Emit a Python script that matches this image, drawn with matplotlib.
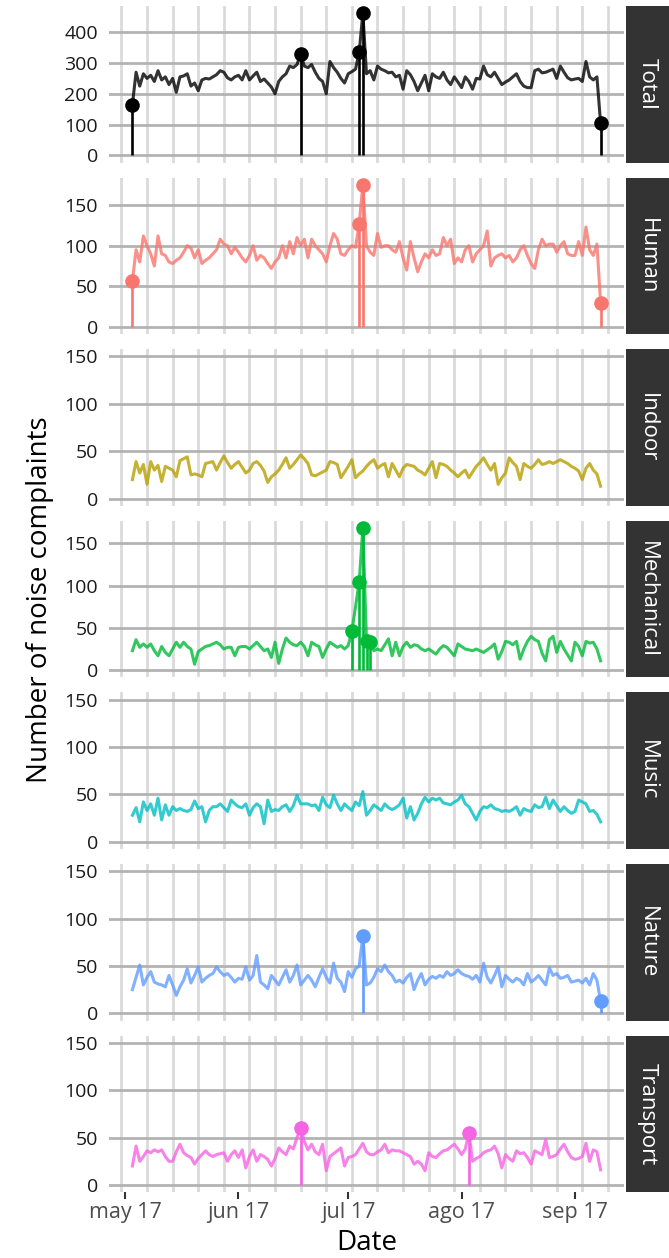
import numpy as np
import pandas as pd
import matplotlib.pyplot as plt
import matplotlib.dates as mdates
from matplotlib.ticker import FuncFormatter

plt.rcParams['font.family'] = ['Open Sans', 'DejaVu Sans']

# Datos diarios (3 may 2017 - 8 sep 2017)
fechas = pd.date_range('2017-05-03', periods=129, freq='D')

total = [165, 270, 225, 265, 250, 260, 240, 275, 245, 255, 230, 250, 205, 255, 258, 265, 225, 235, 210, 245,
         250, 248, 255, 262, 275, 270, 252, 245, 255, 260, 245, 275, 245, 258, 270, 240, 248, 235, 222, 200,
         240, 255, 265, 290, 285, 295, 330, 290, 285, 295, 270, 250, 240, 200, 305, 285, 270, 250, 235, 265,
         272, 280, 335, 462, 265, 275, 245, 290, 280, 275, 268, 270, 255, 260, 215, 275, 262, 240, 210, 235,
         260, 210, 265, 255, 250, 270, 245, 230, 255, 238, 220, 255, 240, 215, 250, 248, 290, 262, 255, 270,
         250, 230, 238, 245, 255, 265, 240, 225, 220, 220, 275, 280, 268, 270, 275, 280, 250, 290, 270, 252,
         245, 248, 250, 240, 305, 255, 245, 255, 105]

human = [57, 95, 80, 112, 100, 90, 75, 112, 90, 88, 80, 78, 82, 85, 92, 100, 97, 85, 95, 78,
         82, 85, 90, 95, 108, 102, 100, 90, 98, 92, 85, 80, 88, 100, 82, 88, 85, 78, 72, 80,
         85, 100, 85, 105, 90, 110, 100, 108, 85, 108, 100, 95, 90, 80, 100, 115, 108, 90, 88, 95,
         100, 98, 127, 175, 100, 92, 88, 115, 98, 100, 100, 95, 92, 105, 85, 70, 105, 85, 68, 80,
         90, 85, 95, 88, 90, 110, 100, 108, 78, 85, 80, 95, 100, 80, 90, 95, 100, 118, 75, 85,
         88, 90, 85, 88, 80, 85, 95, 100, 88, 78, 72, 95, 108, 100, 102, 102, 92, 100, 105, 90,
         88, 88, 105, 88, 123, 95, 88, 102, 30]

indoor = [20, 39, 27, 36, 15, 39, 30, 35, 18, 34, 32, 30, 23, 40, 42, 44, 25, 26, 25, 23,
          37, 38, 39, 30, 38, 45, 38, 32, 36, 39, 33, 27, 30, 37, 39, 35, 29, 17, 23, 26,
          30, 36, 43, 32, 36, 41, 46, 42, 37, 25, 24, 26, 28, 30, 39, 38, 36, 22, 28, 34,
          41, 22, 26, 29, 34, 38, 41, 32, 35, 37, 23, 37, 30, 23, 32, 36, 35, 34, 30, 28,
          25, 32, 39, 22, 37, 36, 34, 30, 27, 23, 27, 30, 22, 28, 34, 38, 43, 36, 30, 37,
          15, 22, 27, 43, 38, 34, 20, 37, 34, 32, 36, 41, 36, 37, 39, 37, 39, 41, 39, 37,
          34, 32, 29, 20, 32, 37, 30, 26, 13]

mechanical = [23, 36, 27, 31, 27, 31, 23, 17, 28, 21, 17, 25, 33, 27, 33, 28, 25, 7, 22, 25,
              28, 29, 31, 33, 30, 25, 27, 27, 17, 27, 28, 28, 25, 29, 33, 28, 23, 25, 15, 33,
              8, 25, 38, 33, 30, 29, 33, 28, 17, 33, 30, 28, 15, 25, 33, 30, 27, 29, 25, 29,
              46, 75, 104, 168, 34, 33, 23, 25, 23, 30, 37, 17, 33, 17, 28, 33, 27, 30, 29, 25,
              23, 25, 22, 19, 25, 29, 27, 22, 17, 31, 28, 25, 24, 23, 25, 23, 21, 24, 27, 31,
              13, 22, 34, 33, 30, 34, 13, 25, 34, 40, 36, 34, 20, 11, 36, 40, 21, 34, 25, 18,
              11, 33, 28, 17, 34, 32, 33, 25, 11]

music = [28, 36, 21, 42, 33, 40, 28, 46, 23, 39, 28, 37, 33, 35, 33, 32, 34, 43, 35, 37,
         21, 33, 37, 37, 40, 36, 32, 44, 40, 37, 36, 40, 28, 36, 40, 37, 19, 44, 32, 34,
         33, 37, 39, 32, 38, 49, 40, 40, 40, 38, 39, 33, 47, 39, 36, 49, 40, 33, 40, 36,
         33, 42, 38, 53, 28, 33, 39, 36, 33, 40, 36, 34, 36, 39, 46, 25, 37, 23, 30, 40,
         47, 42, 46, 44, 46, 41, 40, 39, 42, 44, 49, 40, 37, 30, 23, 32, 37, 36, 39, 35,
         34, 32, 33, 32, 34, 37, 28, 35, 33, 32, 39, 36, 37, 47, 35, 44, 38, 32, 37, 33,
         30, 32, 44, 42, 40, 32, 33, 29, 21]

nature = [25, 38, 51, 30, 38, 44, 33, 31, 30, 28, 40, 30, 19, 28, 35, 47, 32, 40, 49, 33,
          37, 40, 42, 49, 44, 40, 42, 38, 33, 37, 36, 49, 35, 40, 61, 33, 30, 26, 40, 35,
          30, 38, 46, 33, 40, 51, 30, 35, 40, 35, 28, 38, 47, 38, 32, 53, 37, 33, 23, 44,
          38, 47, 50, 82, 30, 32, 38, 47, 44, 51, 44, 40, 33, 35, 32, 38, 42, 25, 35, 42,
          30, 36, 39, 37, 40, 38, 44, 40, 42, 46, 42, 40, 39, 36, 40, 33, 53, 38, 32, 40,
          49, 28, 40, 36, 33, 37, 35, 30, 42, 33, 36, 40, 35, 30, 48, 40, 42, 37, 38, 40,
          33, 34, 35, 32, 37, 30, 42, 35, 13]

transport = [20, 41, 25, 30, 36, 34, 37, 35, 37, 30, 25, 25, 35, 43, 34, 31, 29, 22, 28, 32,
             36, 32, 30, 32, 33, 34, 25, 32, 36, 29, 37, 18, 30, 37, 25, 32, 30, 27, 20, 28,
             39, 35, 32, 41, 38, 50, 60, 46, 37, 43, 35, 32, 43, 15, 30, 33, 36, 39, 20, 29,
             30, 32, 38, 44, 35, 32, 32, 35, 37, 43, 34, 37, 36, 36, 34, 32, 30, 22, 25, 22,
             15, 34, 30, 29, 33, 36, 37, 40, 43, 38, 32, 38, 55, 25, 28, 30, 34, 36, 37, 41,
             33, 18, 32, 28, 25, 36, 33, 34, 29, 22, 36, 34, 32, 48, 29, 30, 32, 38, 43, 35,
             29, 27, 28, 30, 44, 25, 37, 35, 16]

# Dias con anomalia (indice del dia)
anom_total = [0, 46, 62, 63, 128]
anom_human = [0, 62, 63, 128]
anom_indoor = []
anom_mechanical = [60, 62, 63, 64, 65]
anom_music = []
anom_nature = [63, 128]
anom_transport = [46, 92]

categorias = ['Total', 'Human', 'Indoor', 'Mechanical', 'Music', 'Nature', 'Transport']
series = [total, human, indoor, mechanical, music, nature, transport]
anomalias = [anom_total, anom_human, anom_indoor, anom_mechanical, anom_music, anom_nature, anom_transport]
colores = ['#000000', '#F8766D', '#B79F00', '#00BA38', '#00BFC4', '#619CFF', '#F564E3']

meses = ['ene', 'feb', 'mar', 'abr', 'may', 'jun', 'jul', 'ago', 'sep', 'oct', 'nov', 'dic']

W, H = 669, 1258
fig = plt.figure(figsize=(W/100, H/100), dpi=100)

x0, x1 = 109, 624
alto = 156.5
paso = 171.6

# Expansion de 5% en x
rango = (fechas[-1] - fechas[0]) * 0.05
xmin = mdates.date2num(fechas[0] - rango)
xmax = mdates.date2num(fechas[-1] + rango)

for i, (cat, y, anom, col) in enumerate(zip(categorias, series, anomalias, colores)):
    top = 6 + i*paso
    ax = fig.add_axes([x0/W, 1 - (top + alto)/H, (x1 - x0)/W, alto/H])
    y = np.array(y)

    ax.plot(fechas, y, color=col, lw=2.2, alpha=0.8, zorder=3)
    if len(anom) > 0:
        fa = fechas[anom]
        ax.vlines(fa, 0, y[anom], color=col, lw=1.9, zorder=3)
        ax.plot(fa, y[anom], 'o', color=col, ms=9.5, zorder=4)

    if cat == 'Total':
        top_y = y.max()
        ax.set_yticks([0, 100, 200, 300, 400])
    else:
        top_y = max(y.max(), 150)
        ax.set_yticks([0, 50, 100, 150])
    ax.set_ylim(-0.05*top_y, 1.05*top_y)
    ax.set_xlim(xmin, xmax)

    ax.xaxis.set_major_locator(mdates.MonthLocator())
    ax.xaxis.set_minor_locator(mdates.WeekdayLocator(byweekday=mdates.SU))
    ax.xaxis.set_major_formatter(FuncFormatter(
        lambda v, p: meses[mdates.num2date(v).month - 1] + ' ' + mdates.num2date(v).strftime('%y')))

    ax.grid(True, axis='y', which='major', color='#b3b3b3', lw=2.0, zorder=1)
    ax.grid(True, axis='x', which='minor', color='#dadada', lw=2.0, zorder=1)
    ax.grid(False, axis='x', which='major')
    for s in ax.spines.values():
        s.set_visible(False)

    ax.tick_params(axis='y', length=0, pad=8, labelsize=14, labelcolor='#1a1a1a')
    ax.tick_params(axis='x', which='minor', length=0)
    if i == len(categorias) - 1:
        ax.tick_params(axis='x', which='major', length=5, width=1.5, color='#333333',
                       labelsize=15.5, labelcolor='#4d4d4d', pad=2)
    else:
        ax.tick_params(axis='x', which='major', length=0, labelbottom=False)

    # Etiqueta de la faceta
    sx = fig.add_axes([626/W, 1 - (top + alto)/H, (W - 626)/W, alto/H])
    sx.set_facecolor('#333333')
    sx.set_xticks([])
    sx.set_yticks([])
    for s in sx.spines.values():
        s.set_visible(False)
    sx.text(0.5, 0.5, cat, color='white', fontsize=16, rotation=-90,
            ha='center', va='center', transform=sx.transAxes)

fig.text(40/W, 1 - 600/H, 'Number of noise complaints', rotation=90,
         ha='center', va='center', fontsize=20)
fig.text((x0 + x1)/2/W, 1 - 1243/H, 'Date', ha='center', va='center', fontsize=20)

fig.savefig('out.png', dpi=100)
